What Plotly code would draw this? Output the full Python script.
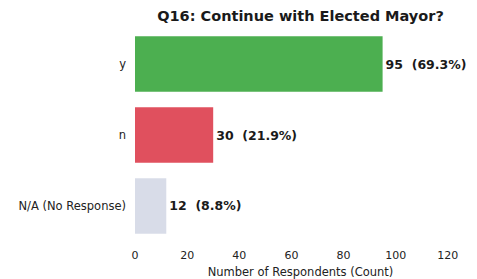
import plotly.graph_objects as go

categories = ["y", "n", "N/A (No Response)"]
counts = [95, 30, 12]
percents = [69.3, 21.9, 8.8]
colors = ["#4CAF50", "#E0505E", "#D8DCE8"]
x_ticks = [0, 20, 40, 60, 80, 100, 120]

labels = [f"{c}\u00a0\u00a0({p:.1f}%)" for c, p in zip(counts, percents)]

# page body has an 8px default margin, so the figure is sized and offset for it
W, H = 469, 271

fig = go.Figure(go.Bar(
    x=counts, y=categories, orientation="h",
    marker=dict(color=colors, line=dict(width=0)),
    width=0.78,
    text=labels, textposition="outside",
    textfont=dict(family="DejaVu Sans", size=12.5, color="#1a1a1a", weight="bold"),
    cliponaxis=False,
))

fig.update_layout(
    width=W, height=H,
    margin=dict(l=127, r=11, t=17, b=34, autoexpand=False),
    plot_bgcolor="white", paper_bgcolor="white",
    font=dict(family="DejaVu Sans", size=11, color="#222222"),
    title=dict(text="<b>Q16: Continue with Elected Mayor?</b>", x=0.5, xref="paper",
               y=1 - 8 / H, yref="container", xanchor="center", yanchor="middle",
               automargin=False,
               font=dict(family="DejaVu Sans", size=14.5, color="#1a1a1a")),
    showlegend=False,
)
fig.update_xaxes(range=[0, 127], tickvals=x_ticks, showgrid=False, zeroline=False,
                 showline=False, ticks="", tickfont=dict(size=11), automargin=False,
                 ticklabelstandoff=2,
                 title=dict(text="Number of Respondents (Count)", font=dict(size=11.5), standoff=8))
fig.update_yaxes(categoryorder="array", categoryarray=categories, autorange=False,
                 range=[2.55, -0.55], showgrid=False, zeroline=False, showline=False,
                 automargin=False,
                 ticks="", tickfont=dict(size=11.5), ticklabelstandoff=8)

fig.write_html("out.html")
